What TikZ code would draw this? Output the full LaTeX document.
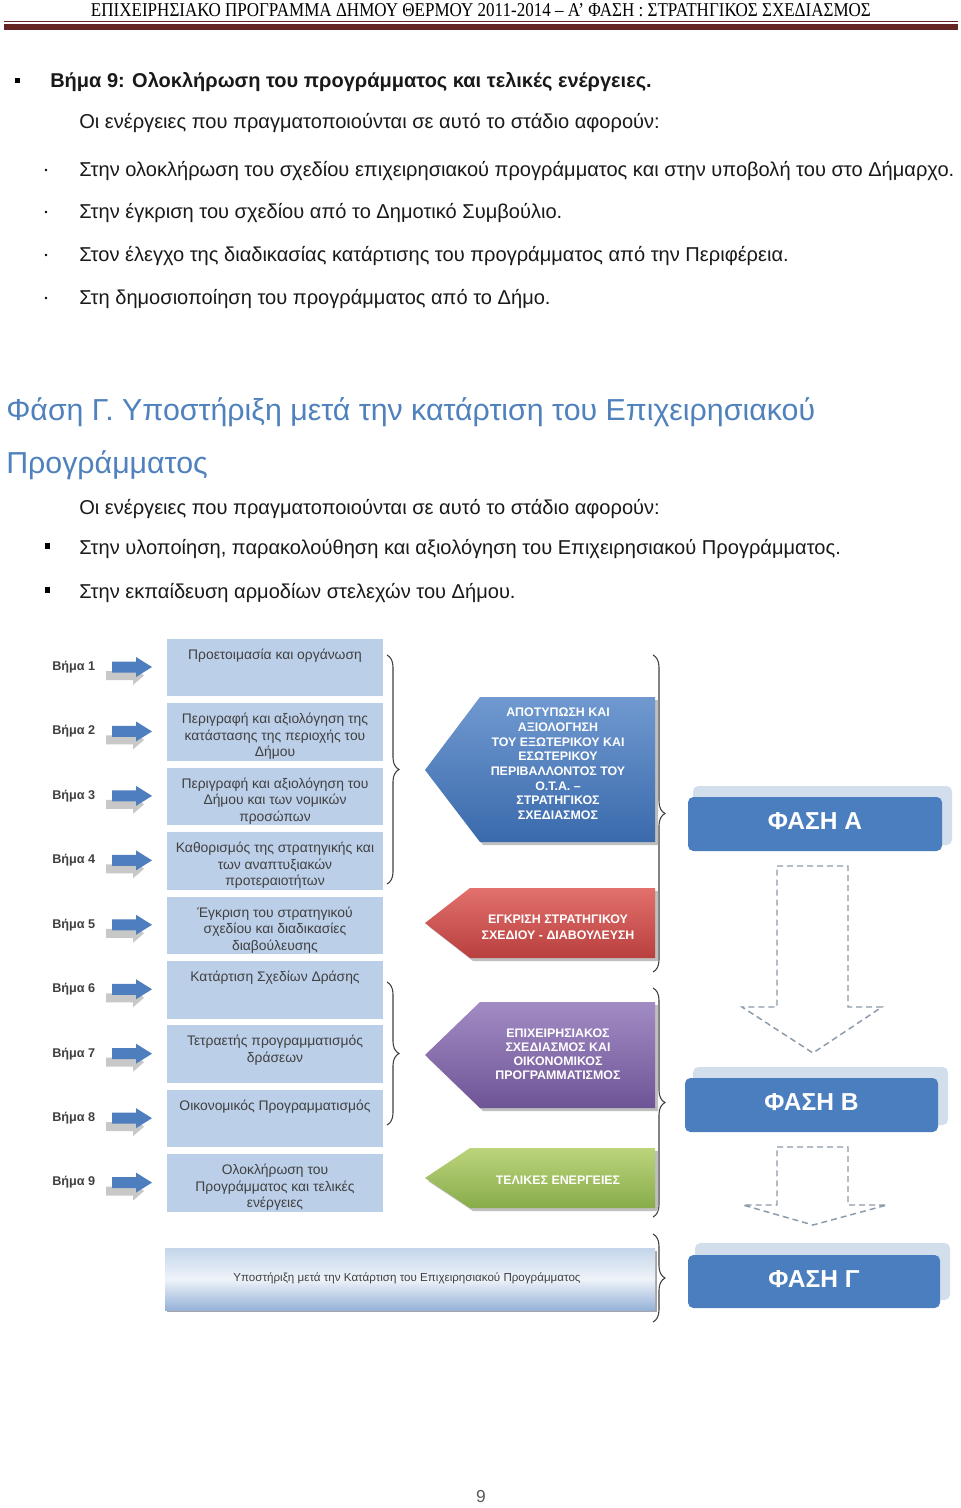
\documentclass[tikz,border=0pt]{standalone}
\usepackage{graphicx}
\usepackage{fontspec}
\setmainfont{Liberation Sans}
\newfontfamily\hdrfont{Liberation Serif}
\usetikzlibrary{decorations.pathreplacing}
\definecolor{hdrred}{RGB}{100,38,34}
\definecolor{headblue}{RGB}{79,129,189}
\definecolor{boxblue}{RGB}{188,207,232}
\definecolor{boxtext}{RGB}{64,64,64}
\definecolor{arrblue}{RGB}{78,126,190}
\definecolor{arrgray}{RGB}{200,200,200}
\definecolor{phblue}{RGB}{74,126,191}
\definecolor{phshadow}{RGB}{211,222,236}
\definecolor{dashgray}{RGB}{140,155,170}
\definecolor{bluetop}{RGB}{112,153,208}
\definecolor{bluebot}{RGB}{58,106,172}
\definecolor{redtop}{RGB}{226,112,108}
\definecolor{redbot}{RGB}{184,64,62}
\definecolor{purtop}{RGB}{162,140,196}
\definecolor{purbot}{RGB}{110,84,150}
\definecolor{grntop}{RGB}{188,212,124}
\definecolor{grnbot}{RGB}{136,172,74}
\definecolor{suptop}{RGB}{196,213,234}
\definecolor{supmid}{RGB}{238,243,249}
\definecolor{supbot}{RGB}{150,178,216}
\tikzset{
  body/.style={font=\fontsize{15.05}{18}\selectfont, inner sep=0pt, anchor=base west, text=black!90},
  boxst/.style={fill=boxblue, draw=none, minimum width=216*0.75pt, minimum height=57.5*0.75pt, inner sep=0pt, anchor=north west},
  boxtxt/.style={font=\fontsize{10.4}{12.4}\selectfont, text=boxtext, align=center, anchor=north, inner sep=0pt},
  steplbl/.style={font=\fontsize{9.5}{11}\selectfont\bfseries, text=boxtext, anchor=west, inner sep=0pt},
  bracest/.style={draw=boxtext, line width=0.8pt, decorate, decoration={brace, amplitude=9pt}},
  pentxt/.style={font=\fontsize{9.3}{11}\selectfont\bfseries, text=white, align=center, inner sep=0pt},
  phase/.style={fill=phblue, rounded corners=4pt, text=white, font=\fontsize{18.4}{21}\selectfont\bfseries, inner sep=0pt, text height=13pt, text depth=4.5pt},
  dasharrow/.style={draw=dashgray, line width=1.1pt, dash pattern=on 4.5pt off 3pt, line join=miter}
}
\begin{document}
\begin{tikzpicture}[x=0.75pt,y=-0.75pt]
\useasboundingbox (0,0) rectangle (960,1508);
\fill[white] (0,0) rectangle (960,1508);

% header
\node[inner sep=0pt, anchor=base] (hdr) at (481,16.5) {\resizebox{585pt}{9.75pt}{\hdrfont ΕΠΙΧΕΙΡΗΣΙΑΚΟ ΠΡΟΓΡΑΜΜΑ ΔΗΜΟΥ ΘΕΡΜΟΥ 2011-2014 – Α’ ΦΑΣΗ : ΣΤΡΑΤΗΓΙΚΟΣ ΣΧΕΔΙΑΣΜΟΣ}};
\fill[hdrred] (4,21.5) rectangle (958,22.5);
\fill[hdrred] (4,24.5) rectangle (958,30);

% body text
\fill[black] (15,78) rectangle (19.5,83);
\node[body, font=\fontsize{15}{18}\selectfont\bfseries] (s9) at (50,88) {Βήμα 9: Ολοκλήρωση του προγράμματος και τελικές ενέργειες.};
\node[body] (p1) at (79,129) {Οι ενέργειες που πραγματοποιούνται σε αυτό το στάδιο αφορούν:};
\foreach \yy in {169,211,254,297} \fill[black] (46,\yy+1) circle (1.3);
\node[body] (a1) at (79,177) {Στην ολοκλήρωση του σχεδίου επιχειρησιακού προγράμματος και στην υποβολή του στο Δήμαρχο.};
\node[body] (a2) at (79,219) {Στην έγκριση του σχεδίου από το Δημοτικό Συμβούλιο.};
\node[body] (a3) at (79,262) {Στον έλεγχο της διαδικασίας κατάρτισης του προγράμματος από την Περιφέρεια.};
\node[body] (a4) at (79,305) {Στη δημοσιοποίηση του προγράμματος από το Δήμο.};

\node[body, font=\fontsize{22.75}{27}\selectfont, text=headblue] (h1) at (6,421) {Φάση Γ. Υποστήριξη μετά την κατάρτιση του Επιχειρησιακού};
\node[body, font=\fontsize{22.75}{27}\selectfont, text=headblue] (h2) at (6,473) {Προγράμματος};
\node[body] (p2) at (79,514) {Οι ενέργειες που πραγματοποιούνται σε αυτό το στάδιο αφορούν:};
\fill[black] (45,543) rectangle (49.5,549);
\node[body] (c1) at (79,554) {Στην υλοποίηση, παρακολούθηση και αξιολόγηση του Επιχειρησιακού Προγράμματος.};
\fill[black] (45,587) rectangle (49.5,593);
\node[body] (c2) at (79,598) {Στην εκπαίδευση αρμοδίων στελεχών του Δήμου.};

% diagram: steps
\foreach \i/\t in {
 1/{Προετοιμασία και οργάνωση},
 2/{Περιγραφή και αξιολόγηση της\\κατάστασης της περιοχής του\\Δήμου},
 3/{Περιγραφή και αξιολόγηση του\\Δήμου και των νομικών\\προσώπων},
 4/{Καθορισμός της στρατηγικής και\\των αναπτυξιακών\\προτεραιοτήτων},
 5/{Έγκριση του στρατηγικού\\σχεδίου και διαδικασίες\\διαβούλευσης},
 6/{Κατάρτιση Σχεδίων Δράσης},
 7/{Τετραετής προγραμματισμός\\δράσεων},
 8/{Οικονομικός Προγραμματισμός},
 9/{Ολοκλήρωση του\\Προγράμματος και τελικές\\ενέργειες}}{
  \pgfmathsetmacro\tp{638.5+(\i-1)*64.45}
  \pgfmathsetmacro\cc{\tp+28.5}
  \node[boxst] (b\i) at (167,\tp) {};
  \node[boxtxt] (t\i) at (275,\tp+10) {\t};
  \node[steplbl] (l\i) at (52,\cc) {Βήμα \i};
  \fill[arrgray] (106,\cc+4) -- (133,\cc+4) -- (133,\cc-1) -- (144,\cc+8.5) -- (133,\cc+18) -- (133,\cc+13) -- (106,\cc+13) -- cycle;
  \fill[arrblue] (112,\cc-5.5) -- (136,\cc-5.5) -- (136,\cc-10) -- (152,\cc) -- (136,\cc+10) -- (136,\cc+5.5) -- (112,\cc+5.5) -- cycle;
}

% braces next to steps
\draw[bracest] (387,655) -- (387,884);
\draw[bracest] (387,982) -- (387,1125);
% braces right of pentagons
\draw[bracest] (653,655) -- (653,972);
\draw[bracest] (653,988) -- (653,1217);
\draw[bracest] (653,1234) -- (653,1322);

% pentagons
\fill[black!25] (658,700) -- (483,700) -- (428,773) -- (483,845) -- (658,845) -- cycle;
\shade[top color=bluetop, bottom color=bluebot] (655,697) -- (480,697) -- (425,770) -- (480,842) -- (655,842) -- cycle;
\node[pentxt] (pa) at (558,764) {ΑΠΟΤΥΠΩΣΗ ΚΑΙ\\ΑΞΙΟΛΟΓΗΣΗ\\ΤΟΥ ΕΞΩΤΕΡΙΚΟΥ ΚΑΙ\\ΕΣΩΤΕΡΙΚΟΥ\\ΠΕΡΙΒΑΛΛΟΝΤΟΣ ΤΟΥ\\Ο.Τ.Α. –\\ΣΤΡΑΤΗΓΙΚΟΣ\\ΣΧΕΔΙΑΣΜΟΣ};

\fill[black!25] (658,891) -- (473,891) -- (428,926) -- (473,961) -- (658,961) -- cycle;
\shade[top color=redtop, bottom color=redbot] (655,888) -- (470,888) -- (425,923) -- (470,958) -- (655,958) -- cycle;
\node[pentxt, font=\fontsize{9.3}{12}\selectfont\bfseries] (pb) at (558,927) {ΕΓΚΡΙΣΗ ΣΤΡΑΤΗΓΙΚΟΥ\\ΣΧΕΔΙΟΥ - ΔΙΑΒΟΥΛΕΥΣΗ};

\fill[black!25] (658,1005) -- (483,1005) -- (428,1058) -- (483,1111) -- (658,1111) -- cycle;
\shade[top color=purtop, bottom color=purbot] (655,1002) -- (480,1002) -- (425,1055) -- (480,1108) -- (655,1108) -- cycle;
\node[pentxt, font=\fontsize{9.3}{10.5}\selectfont\bfseries] (pc) at (558,1054) {ΕΠΙΧΕΙΡΗΣΙΑΚΟΣ\\ΣΧΕΔΙΑΣΜΟΣ ΚΑΙ\\ΟΙΚΟΝΟΜΙΚΟΣ\\ΠΡΟΓΡΑΜΜΑΤΙΣΜΟΣ};

\fill[black!25] (658,1151) -- (473,1151) -- (428,1181) -- (473,1211) -- (658,1211) -- cycle;
\shade[top color=grntop, bottom color=grnbot] (655,1148) -- (470,1148) -- (425,1178) -- (470,1208) -- (655,1208) -- cycle;
\node[pentxt] (pd) at (558,1180) {ΤΕΛΙΚΕΣ ΕΝΕΡΓΕΙΕΣ};

% support box
\fill[black!35] (167,1251) rectangle (657,1312);
\shade[top color=suptop, bottom color=supbot, middle color=supmid] (165,1248) rectangle (655,1310);
\node[font=\fontsize{8.7}{11}\selectfont, text=boxtext, inner sep=0pt] (sup) at (407,1278) {Υποστήριξη μετά την Κατάρτιση του Επιχειρησιακού Προγράμματος};

% phases
\fill[phshadow, rounded corners=4pt] (693,786) rectangle (952,845);
\node[phase, minimum width=254*0.75pt, minimum height=54*0.75pt] (fa) at (815,824) {ΦΑΣΗ Α};
\fill[phshadow, rounded corners=4pt] (693,1067) rectangle (948,1125);
\node[phase, minimum width=253*0.75pt, minimum height=54*0.75pt] (fb) at (811.5,1105) {ΦΑΣΗ Β};
\fill[phshadow, rounded corners=4pt] (695,1243) rectangle (950,1300);
\node[phase, minimum width=252*0.75pt, minimum height=53*0.75pt] (fg) at (814,1281.5) {ΦΑΣΗ Γ};

% dashed block arrows
\draw[dasharrow] (777,866) -- (848,866) -- (848,1007) -- (882,1007) -- (813,1053) -- (742,1007) -- (777,1007) -- cycle;
\draw[dasharrow] (777,1147) -- (848,1147) -- (848,1205) -- (887,1205) -- (813,1225) -- (743,1205) -- (777,1205) -- cycle;

% page number
\node[font=\fontsize{13}{15}\selectfont, text=black!65, inner sep=0pt] (pg) at (481,1497) {9};
\end{tikzpicture}
\end{document}
